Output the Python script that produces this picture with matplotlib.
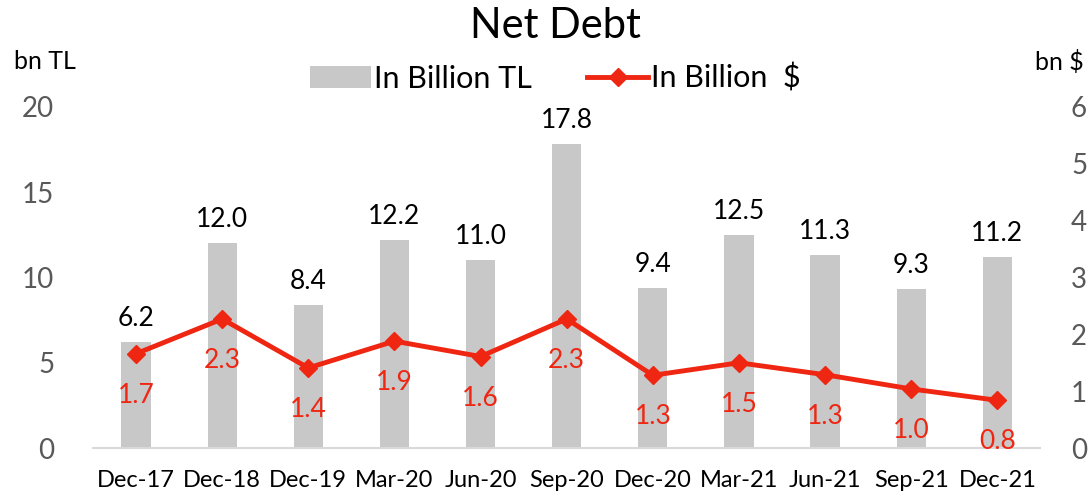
import matplotlib.pyplot as plt
import numpy as np

plt.rcParams['font.family'] = ['Lato', 'DejaVu Sans']

periods = ["Dec-17", "Dec-18", "Dec-19", "Mar-20", "Jun-20", "Sep-20",
           "Dec-20", "Mar-21", "Jun-21", "Sep-21", "Dec-21"]
debt_tl = [6.2, 12.0, 8.4, 12.2, 11.0, 17.8, 9.4, 12.5, 11.3, 9.3, 11.2]
debt_usd = [1.66, 2.27, 1.41, 1.88, 1.61, 2.27, 1.28, 1.50, 1.29, 1.04, 0.84]

bar_color = "#C8C8C8"
line_color = "#EE2612"
tick_gray = "#595959"

fig = plt.figure(figsize=(10.89, 4.99), dpi=100)
ax = fig.add_axes([0.0854, 0.102, 0.87, 0.684])
ax2 = ax.twinx()

x = np.arange(len(periods))
ax.bar(x, debt_tl, width=0.34, color=bar_color, label="In Billion TL", zorder=1)
ax2.plot(x, debt_usd, color=line_color, lw=3.5, marker="D", ms=9,
         label="In Billion  $", zorder=3)

ax.set_ylim(0, 20)
ax2.set_ylim(0, 6)
ax.set_xlim(-0.5, len(periods) - 0.5)
ax.set_yticks([0, 5, 10, 15, 20])
ax2.set_yticks(range(7))
ax.set_xticks(x)
ax.set_xticklabels(periods, fontsize=17, color="black")
ax.tick_params(axis="y", labelsize=20, labelcolor=tick_gray, length=0, pad=28)
ax2.tick_params(axis="y", labelsize=20, labelcolor=tick_gray, length=0, pad=22)
ax.tick_params(axis="x", length=0, pad=16)

for a in (ax, ax2):
    for s in ("top", "left", "right", "bottom"):
        a.spines[s].set_visible(False)
ax.spines["bottom"].set_visible(True)
ax.spines["bottom"].set_color("#D9D9D9")
ax.spines["bottom"].set_linewidth(1.5)

for xi, v in zip(x, debt_tl):
    ax.annotate(f"{v:.1f}", (xi, v), xytext=(0, 17), textcoords="offset points",
                ha="center", va="center", fontsize=19, color="black")
for xi, v in zip(x, debt_usd):
    ax2.annotate(f"{v:.1f}", (xi, v), xytext=(0, -30), textcoords="offset points",
                 ha="center", va="center", fontsize=19, color=line_color)

fig.text(0.51, 0.948, "Net Debt", ha="center", va="center", fontsize=30)
fig.text(0.013, 0.876, "bn TL", ha="left", va="center", fontsize=18)
fig.text(0.995, 0.876, "bn $", ha="right", va="center", fontsize=18)

h1, l1 = ax.get_legend_handles_labels()
h2, l2 = ax2.get_legend_handles_labels()
fig.legend(h1 + h2, l1 + l2, loc="center", bbox_to_anchor=(0.51, 0.843), ncol=2,
           frameon=False, fontsize=22, handlelength=2.0, handletextpad=0.1,
           columnspacing=1.8)

fig.savefig("out.png", dpi=100)
